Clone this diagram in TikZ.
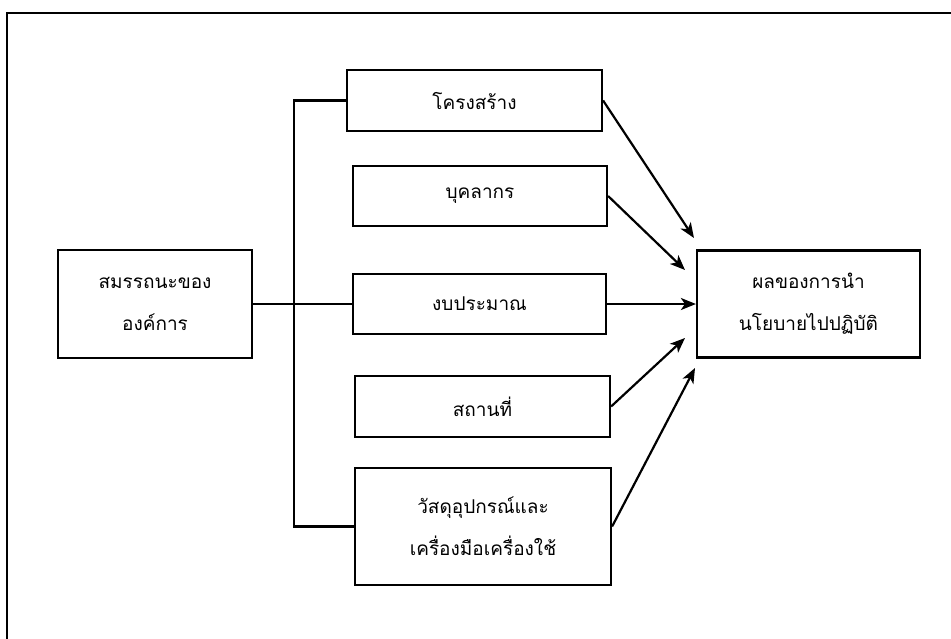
\documentclass[tikz,border=0pt]{standalone}
\usepackage{fontspec}
\newfontfamily\thaifont[Script=Thai]{Loma}
\usetikzlibrary{arrows.meta}
\begin{document}
\begin{tikzpicture}[x=1pt,y=-1pt,
  box/.style={draw,line width=2.2pt,inner sep=0pt,align=center,
    font=\fontsize{19pt}{42pt}\selectfont\thaifont},
  conn/.style={line width=2.2pt},
  arr/.style={line width=2.2pt,-{Stealth[length=15pt,width=12pt,inset=4pt]}}]
\useasboundingbox (0,0) rectangle (951,638);
\clip (0,0) rectangle (951,638);
% outer frame
\draw[line width=2.2pt] (7,660) -- (7,13) -- (970,13);
% nodes
\node[box,minimum width=194pt,minimum height=108pt] (main) at (155,304) {สมรรถนะของ\\องค์การ};
\node[box,minimum width=255pt,minimum height=61pt] (b1) at (474.5,100.5) {โครงสร้าง};
\node[box,minimum width=254pt,minimum height=60pt] (b2) at (480,196) {บุคลากร};
\node[box,minimum width=253pt,minimum height=60pt] (b3) at (479.5,304) {งบประมาณ};
\node[box,minimum width=255pt,minimum height=61pt] (b4) at (482.5,406.5) {สถานที่};
\node[box,minimum width=256pt,minimum height=117pt] (b5) at (483,526.5) {วัสดุอุปกรณ์และ\\เครื่องมือเครื่องใช้};
\node[box,minimum width=223pt,minimum height=107pt] (res) at (808.5,304) {ผลของการนำ\\นโยบายไปปฏิบัติ};
% junction
\coordinate (jx) at (294,304);
\draw[conn] (main.east) -- (b3.west);
\draw[conn] (b1.west) -- (b1.west -| jx) -- (b5.west -| jx) -- (b5.west);
% arrow tips
\coordinate (t1) at (694,238);
\coordinate (t2) at (685,270);
\coordinate (t4) at (685,338);
\coordinate (t5) at (695,368);
\draw[arr] (b1.east) -- (t1);
\draw[arr] (b2.east) -- (t2);
\draw[arr] (b3.east) -- (res.west);
\draw[arr] (b4.east) -- (t4);
\draw[arr] (b5.east) -- (t5);
\end{tikzpicture}
\end{document}
